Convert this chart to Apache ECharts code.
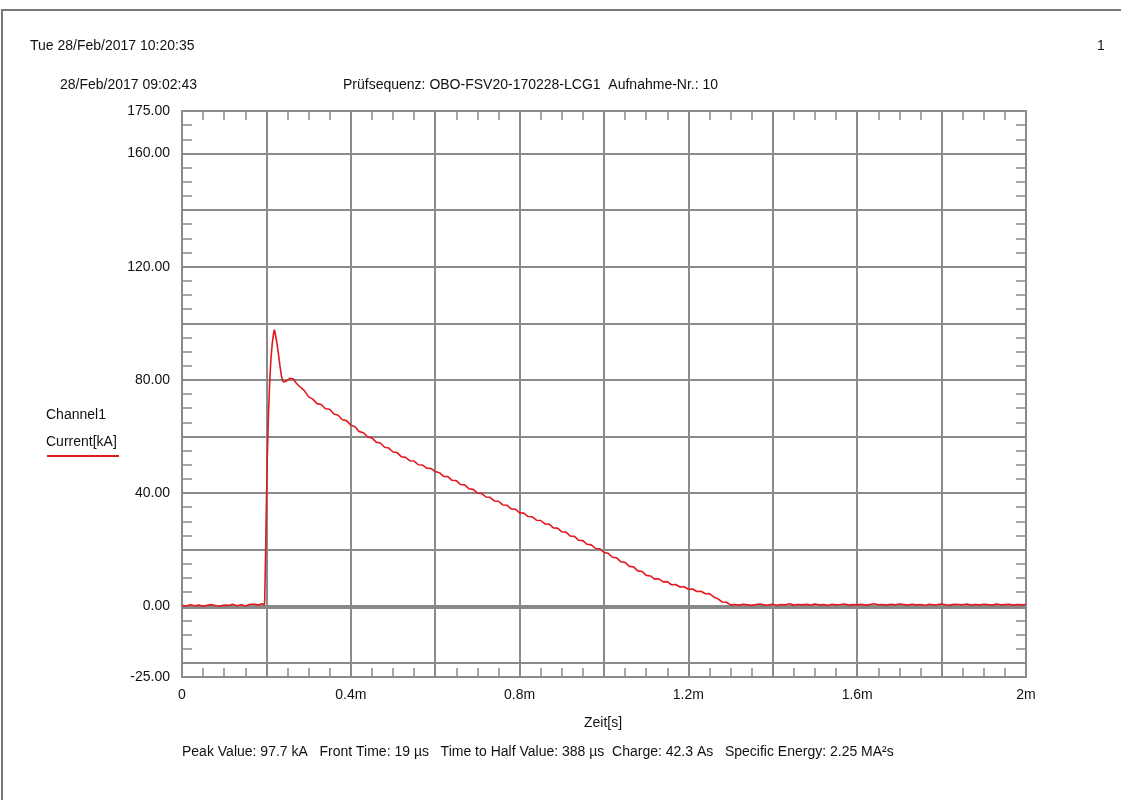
<!DOCTYPE html>
<html>
<head>
<meta charset="utf-8">
<script src="https://cdn.jsdelivr.net/npm/echarts@6/dist/echarts.min.js"></script>
<style>
html,body{margin:0;padding:0;background:#fff;}
#c{width:1121px;height:800px;}
</style>
</head>
<body>
<div id="c"></div>
<script>
// ---- DATA ----
// time in ms
const timeMs = [
  0,0.01,0.02,0.03,0.04,0.05,0.06,0.07,0.08,0.09,
  0.10,0.11,0.12,0.13,0.14,0.15,0.16,0.17,0.18,0.19,
  0.195,0.196,0.198,0.200,0.202,0.205,0.208,0.211,0.214,0.217,
  0.219,0.222,0.225,0.2285,0.232,0.236,0.240,0.244,0.248,0.252,
  0.256,0.260,0.264,0.268,0.272,0.276,
  0.28,0.29,0.30,0.31,0.32,0.33,0.34,0.35,0.36,0.37,
  0.38,0.39,0.40,0.41,0.42,0.43,0.44,0.45,0.46,0.47,
  0.48,0.49,0.50,0.51,0.52,0.53,0.54,0.55,0.56,0.57,
  0.58,0.59,0.60,0.61,0.62,0.63,0.64,0.65,0.66,0.67,
  0.68,0.69,0.70,0.71,0.72,0.73,0.74,0.75,0.76,0.77,
  0.78,0.79,0.80,0.81,0.82,0.83,0.84,0.85,0.86,0.87,
  0.88,0.89,0.90,0.91,0.92,0.93,0.94,0.95,0.96,0.97,
  0.98,0.99,1.00,1.01,1.02,1.03,1.04,1.05,1.06,1.07,
  1.08,1.09,1.10,1.11,1.12,1.13,1.14,1.15,1.16,1.17,
  1.18,1.19,1.20,1.21,1.22,1.23,1.24,1.25,1.26,1.27,
  1.28,1.29,1.30,
  1.31,1.32,1.33,1.34,1.35,1.36,1.37,1.38,1.39,1.40,
  1.41,1.42,1.43,1.44,1.45,1.46,1.47,1.48,1.49,1.50,
  1.51,1.52,1.53,1.54,1.55,1.56,1.57,1.58,1.59,1.60,
  1.61,1.62,1.63,1.64,1.65,1.66,1.67,1.68,1.69,1.70,
  1.71,1.72,1.73,1.74,1.75,1.76,1.77,1.78,1.79,1.80,
  1.81,1.82,1.83,1.84,1.85,1.86,1.87,1.88,1.89,1.90,
  1.91,1.92,1.93,1.94,1.95,1.96,1.97,1.98,1.99,2.00
];
// current in kA
const currentKA = [
  0.3,0.1,0.5,0.2,0.4,0.0,0.3,0.6,0.2,0.1,
  0.4,0.3,0.7,0.2,0.5,0.1,0.6,0.8,0.4,0.9,
  0.5,2,18,36,52,68,80,88,93,96.5,
  97.7,95.5,93.0,89.2,85.0,81.0,79.2,79.0,79.6,80.1,
  80.6,80.7,80.3,79.3,78.6,78.0,
  77.3,76.2,74.0,73.2,71.6,71.3,69.8,69.6,67.9,67.5,
  65.9,65.6,64.0,63.4,61.7,61.3,59.8,59.5,58.0,57.7,
  56.2,55.9,54.5,54.3,52.8,52.6,51.4,51.3,50.0,49.9,
  48.8,48.7,47.6,47.2,45.9,45.8,44.5,44.4,43.0,42.9,
  41.5,41.3,40.0,39.9,38.6,38.5,37.2,37.1,35.8,35.7,
  34.4,34.3,33.0,32.9,31.7,31.6,30.4,30.3,29.1,29.0,
  27.7,27.6,26.3,26.2,24.8,24.7,23.3,23.2,21.9,21.7,
  20.4,20.3,19.0,18.7,17.3,17.1,15.7,15.5,14.1,13.9,
  12.5,12.3,10.9,10.7,9.6,9.7,8.6,8.7,7.6,7.7,
  6.8,6.9,6.0,6.1,5.2,5.3,4.4,4.5,3.3,2.6,
  1.5,1.4,0.5,
  0.6,0.4,0.7,0.5,0.3,0.6,0.8,0.4,0.5,0.7,
  0.3,0.6,0.5,0.9,0.4,0.6,0.5,0.7,0.4,0.8,
  0.5,0.6,0.3,0.7,0.5,0.6,0.8,0.4,0.6,0.5,
  0.7,0.4,0.6,0.9,0.5,0.6,0.4,0.7,0.5,0.8,
  0.6,0.4,0.7,0.5,0.6,0.3,0.7,0.5,0.6,0.8,
  0.5,0.4,0.7,0.6,0.5,0.8,0.4,0.6,0.5,0.7,
  0.6,0.4,0.8,0.5,0.6,0.7,0.4,0.6,0.5,0.6
];
const yTickLabels = [175, 160, 120, 80, 40, 0, -25];
const xTickLabels = [0, 0.4, 0.8, 1.2, 1.6, 2];
const hGridValues = [-20, 20, 40, 60, 80, 100, 120, 140, 160];
const zeroLineValue = [0];

const headerLeft = 'Tue 28/Feb/2017 10:20:35';
const pageNumber = '1';
const recordTime = '28/Feb/2017 09:02:43';
const sequenceText = 'Prüfsequenz: OBO-FSV20-170228-LCG1  Aufnahme-Nr.: 10';
const channelName = 'Channel1';
const channelUnit = 'Current[kA]';
const xAxisTitle = 'Zeit[s]';
const statsText = 'Peak Value: 97.7 kA   Front Time: 19 \u00b5s   Time to Half Value: 388 \u00b5s  Charge: 42.3 As   Specific Energy: 2.25 MA\u00b2s';

// ---- CHART ----
const FONT = '"Liberation Sans", Arial, sans-serif';
const FS = 14;
const GRID = '#8a8a8a';
const RED = '#e3191c';

const seriesData = timeMs.map((t, i) => [t, currentKA[i]]);

function xLabel(v) {
  const r = Math.round(v * 10) / 10;
  if (Math.abs(v - r) > 1e-6) return '';
  if (!xTickLabels.some(x => Math.abs(x - r) < 1e-6)) return '';
  return r === 0 ? '0' : (r + 'm');
}
function yLabel(v) {
  const r = Math.round(v);
  if (!yTickLabels.includes(r)) return '';
  return r.toFixed(2);
}

const baseX = {
  type: 'value', min: 0, max: 2, interval: 0.2,
  axisLine: { show: true, onZero: false, lineStyle: { color: GRID, width: 2 } },
  axisTick: { show: false, inside: true },
  minorTick: { show: true, splitNumber: 4, length: 9, lineStyle: { color: GRID, width: 1.5 } },
  minorSplitLine: { show: false }
};
const baseY = {
  type: 'value', min: -25, max: 175, interval: 5,
  axisLine: { show: true, onZero: false, lineStyle: { color: GRID, width: 2 } },
  axisTick: { show: true, inside: true, length: 10, lineStyle: { color: GRID, width: 1.5 } },
  splitLine: { show: false }
};

function txt(str, x, y, align) {
  return { type: 'text', x: x, y: y, silent: true,
    style: { text: str, font: FS + 'px ' + FONT, fill: '#111', align: align || 'left', verticalAlign: 'middle' } };
}

const option = {
  backgroundColor: '#ffffff',
  animation: false,
  textStyle: { fontFamily: FONT },
  grid: { left: 182, right: 95, top: 111, bottom: 123 },
  xAxis: [
    Object.assign({}, baseX, {
      position: 'bottom',
      splitLine: { show: true, lineStyle: { color: GRID, width: 2 } },
      axisLabel: { show: true, formatter: xLabel, color: '#111', fontSize: FS, fontFamily: FONT, margin: 11, showMinLabel: true, showMaxLabel: true, hideOverlap: false }
    }),
    Object.assign({}, baseX, {
      position: 'top',
      splitLine: { show: false },
      axisLabel: { show: false }
    })
  ],
  yAxis: [
    Object.assign({}, baseY, {
      position: 'left',
      axisLabel: { show: true, formatter: yLabel, color: '#111', fontSize: FS, fontFamily: FONT, margin: 12, showMinLabel: true, showMaxLabel: true, hideOverlap: false }
    }),
    Object.assign({}, baseY, {
      position: 'right',
      axisLabel: { show: false }
    })
  ],
  series: [
    {
      type: 'line', name: 'grid', data: [], z: 1, silent: true,
      markLine: {
        silent: true, symbol: ['none', 'none'], animation: false,
        label: { show: false },
        lineStyle: { color: GRID, width: 2, type: 'solid' },
        data: hGridValues.map(v => ({ yAxis: v }))
      }
    },
    {
      type: 'line', name: 'zero', data: [], z: 1, silent: true,
      markLine: {
        silent: true, symbol: ['none', 'none'], animation: false,
        label: { show: false },
        lineStyle: { color: '#888888', width: 4, type: 'solid' },
        data: zeroLineValue.map(v => ({ yAxis: v }))
      }
    },
    {
      type: 'line', name: channelUnit, data: seriesData, z: 5,
      showSymbol: false, symbol: 'none', sampling: null, smooth: false,
      lineStyle: { color: RED, width: 1.6 }
    }
  ],
  graphic: [
    { type: 'polyline', silent: true, shape: { points: [[2, 800], [2, 10], [1121, 10]] }, style: { stroke: '#7a7a7a', lineWidth: 2, fill: null } },
    txt(headerLeft, 30, 46),
    txt(pageNumber, 1097, 46),
    txt(recordTime, 60, 85),
    txt(sequenceText, 343, 85),
    txt(channelName, 46, 415),
    txt(channelUnit, 46, 442),
    { type: 'line', silent: true, shape: { x1: 47, y1: 456, x2: 119, y2: 456 }, style: { stroke: RED, lineWidth: 2 } },
    txt(xAxisTitle, 603, 723, 'center'),
    txt(statsText, 182, 752)
  ]
};

const chart = echarts.init(document.getElementById('c'), null, { renderer: 'canvas' });
chart.setOption(option);
</script>
</body>
</html>
